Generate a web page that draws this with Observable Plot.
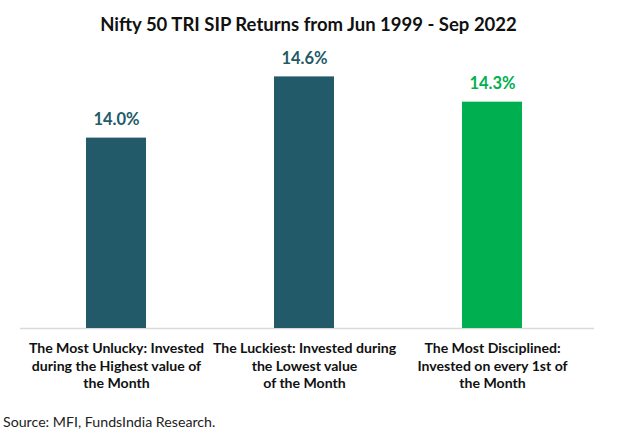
<!DOCTYPE html>
<html>
<head>
<meta charset="utf-8">
<script src="https://cdn.jsdelivr.net/npm/d3@7"></script>
<script src="https://cdn.jsdelivr.net/npm/@observablehq/plot@0.6"></script>
<style>
  body { margin: 0; background: #fff; font-family: Lato, "Open Sans", sans-serif; }
  #wrap { width: 617px; }
  #title { height: 40px; box-sizing: border-box; padding-top: 13px; text-align: center; font-weight: bold; font-size: 18.5px; line-height: 23px; color: #111; }
  #caption { font-size: 14.2px; color: #222; padding-left: 3px; padding-top: 8px; }
</style>
</head>
<body>
<div id="wrap">
  <div id="title">Nifty 50 TRI SIP Returns from Jun 1999 - Sep 2022</div>
  <div id="chart"></div>
  <div id="caption">Source: MFI, FundsIndia Research.</div>
</div>
<script>
const categories = [
  "The Most Unlucky: Invested\nduring the Highest value of\nthe Month",
  "The Luckiest: Invested during\nthe Lowest value\nof the Month",
  "The Most Disciplined:\nInvested on every 1st of\nthe Month"
];
const returns = [13.96, 14.59, 14.33];
const groups = ["regular", "regular", "disciplined"];

const yMin = 12;
const data = categories.map((c, i) => ({cat: c, value: returns[i], group: groups[i]}));

const chart = Plot.plot({
  width: 617,
  height: 365,
  marginTop: 16,
  marginBottom: 77,
  marginLeft: 20,
  marginRight: 23,
  style: {fontFamily: "Lato, 'Open Sans', sans-serif", background: "#fff"},
  x: {type: "band", domain: categories, range: [85, 523], paddingInner: 0.6825, paddingOuter: 0, label: null},
  y: {domain: [yMin, 14.8], axis: null},
  color: {domain: ["regular", "disciplined"], range: ["#235a69", "#00b050"]},
  marks: [
    Plot.ruleY([yMin], {stroke: "#d9d9d9", strokeWidth: 1.3}),
    Plot.barY(data, {x: "cat", y1: yMin, y2: "value", fill: "group"}),
    Plot.text(data, {x: "cat", y: "value", text: d => d3.format(".1f")(d.value) + "%", dy: -18, fill: "group", fontSize: 16.5, fontWeight: "bold"}),
    Plot.axisX({tickSize: 0, tickPadding: 12, fontSize: 14.1, fontWeight: "bold", lineHeight: 1.25, fill: "#111", label: null})
  ]
});
document.getElementById("chart").appendChild(chart);
</script>
</body>
</html>
